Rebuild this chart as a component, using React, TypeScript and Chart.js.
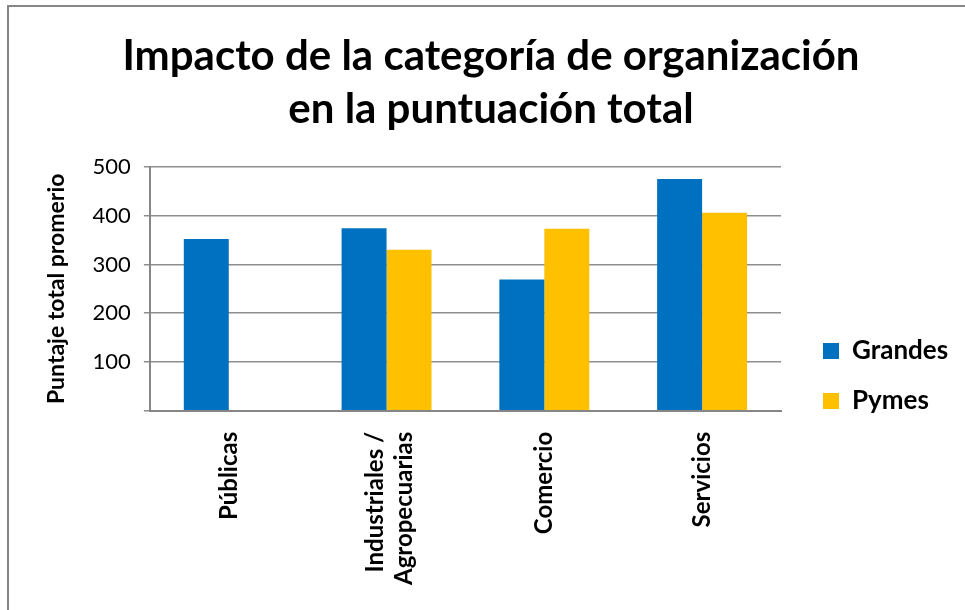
import React, { useEffect, useRef } from "react";
import { Chart, registerables } from "chart.js";

Chart.register(...registerables);

const categories: (string | string[])[] = ["Públicas", ["Industriales /", "Agropecuarias"], "Comercio", "Servicios"];
const grandes: (number | null)[] = [352, 374, 269, 475];
const pymes: (number | null)[] = [null, 330, 373, 406];
const titleLines = ["Impacto de la categoría de organización", "en la puntuación total"];
const yTitle = "Puntaje total promerio";
const FONT = "Lato, 'Noto Sans', sans-serif";

// centre multi-line rotated category labels on their tick
const centerMultiline = {
  id: "centerMultiline",
  beforeDraw(chart: any) {
    const s = chart.scales.x;
    if (!s) return;
    const items = s.getLabelItems(chart.chartArea);
    items.forEach((it: any) => {
      if (Array.isArray(it.label) && it.label.length > 1 && !it.__centered) {
        const lh = it.font?.lineHeight ?? 28;
        it.options.translation[0] -= ((it.label.length - 1) * lh) / 2 - 3;
        it.__centered = true;
      }
    });
  },
};

export default function App() {
  const ref = useRef<HTMLCanvasElement | null>(null);
  useEffect(() => {
    if (!ref.current) return;
    const chart = new Chart(ref.current, {
      type: "bar",
      data: {
        labels: categories,
        datasets: [
          { label: "Grandes", data: grandes, backgroundColor: "#0070C0", borderWidth: 0 },
          { label: "Pymes", data: pymes, backgroundColor: "#FFC000", borderWidth: 0 },
        ],
      },
      plugins: [centerMultiline],
      options: {
        animation: false,
        responsive: false,
        maintainAspectRatio: false,
        datasets: { bar: { categoryPercentage: 0.57, barPercentage: 1 } },
        layout: { padding: { left: 29, right: 12, top: 30, bottom: 12 } },
        plugins: {
          title: {
            display: true,
            text: titleLines,
            color: "#000",
            font: { family: FONT, size: 42, weight: "bold", lineHeight: 1.26 },
            padding: { top: 0, bottom: 31 },
          },
          legend: {
            position: "right",
            align: "center",
            title: { display: true, text: "", font: { size: 10, lineHeight: 1 }, padding: { top: 0, bottom: 114 } },
            labels: {
              color: "#000",
              font: { family: FONT, size: 26, weight: "bold" },
              boxWidth: 16,
              boxHeight: 16,
              padding: 24,
            },
          },
          tooltip: { enabled: false },
        },
        scales: {
          x: {
            grid: { display: false },
            border: { color: "#868686", width: 2 },
            ticks: {
              color: "#000",
              font: { family: FONT, size: 24, weight: "bold" },
              maxRotation: 90,
              minRotation: 90,
              padding: 13,
            },
          },
          y: {
            min: 0,
            max: 500,
            border: { color: "#868686", width: 2 },
            grid: { color: "#8e8e8e", lineWidth: 1.5, tickLength: 6 },
            ticks: {
              stepSize: 100,
              color: "#000",
              font: { family: FONT, size: 22 },
              padding: 13,
              callback: (v: any) => (v === 0 ? "" : String(v)),
            },
            title: {
              display: true,
              text: yTitle,
              color: "#000",
              font: { family: FONT, size: 23, weight: "bold" },
              padding: { top: 14, bottom: 9 },
            },
          },
          spacer: {
            position: "right",
            display: true,
            grid: { display: false },
            border: { display: false },
            ticks: { display: false },
            afterFit: (s: any) => {
              s.width = 18;
            },
          },
        },
      },
    });
    return () => chart.destroy();
  }, []);
  return (
    <div style={{ position: "absolute", left: 0, top: 0, width: 965, height: 610, overflow: "hidden", background: "#fff" }}>
      <div
        style={{
          position: "absolute",
          left: 7,
          top: 5,
          width: 1200,
          height: 900,
          borderLeft: "2px solid #868686",
          borderTop: "2px solid #868686",
        }}
      />
      <canvas ref={ref} width={965} height={610} style={{ position: "absolute", left: 0, top: 0, width: 965, height: 610 }} />
    </div>
  );
}
